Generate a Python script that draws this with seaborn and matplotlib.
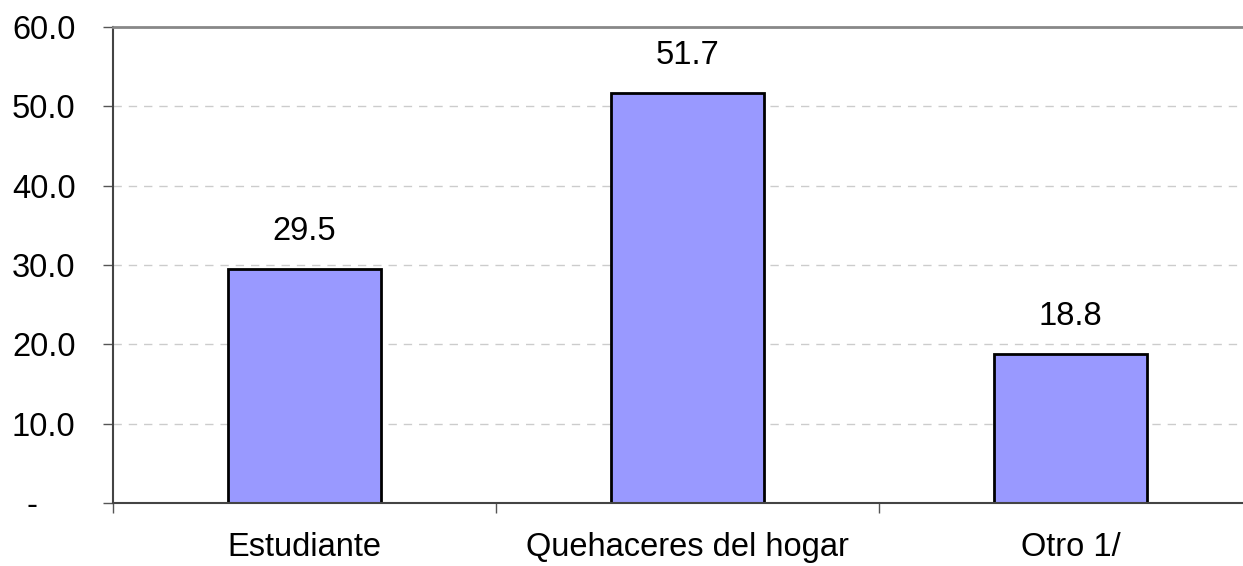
import matplotlib
matplotlib.use("Agg")
import matplotlib.pyplot as plt
import matplotlib.transforms as mtransforms
import seaborn as sns
import pandas as pd

categories = ["Estudiante", "Quehaceres del hogar", "Otro 1/"]
values = [29.5, 51.7, 18.8]
yticks = [0, 10, 20, 30, 40, 50, 60]
ytick_labels = ["-", "10.0", "20.0", "30.0", "40.0", "50.0", "60.0"]

sns.set_theme(style="white")
plt.rcParams['font.family'] = ['Liberation Sans', 'DejaVu Sans']

W, H = 1243, 566
FS = 23.5
fig = plt.figure(figsize=(W / 100, H / 100), dpi=100)
ax = fig.add_axes([113 / W, 63 / H, 1149 / W, 476 / H])

df = pd.DataFrame({"cat": categories, "val": values})
sns.barplot(data=df, x="cat", y="val", ax=ax, color="#9999FF", width=0.4,
            edgecolor="black", linewidth=2, saturation=1)

ax.set_xlim(-0.5, 2.5)
ax.set_ylim(0, 60)
ax.set_yticks(yticks)
ax.set_yticklabels(ytick_labels, fontsize=FS, color="black")
ax.yaxis.grid(True, linestyle=(0, (6, 5)), color="#cccccc", linewidth=1)
ax.set_axisbelow(True)

ax.set_xticks([0, 1, 2])
ax.set_xticklabels(categories, fontsize=FS, color="black")
ax.tick_params(axis="x", length=0, pad=21)
ax.set_xticks([-0.5, 0.5, 1.5], minor=True)
ax.tick_params(axis="x", which="minor", direction="out", length=7, width=1, color="#555555", bottom=True)
ax.tick_params(axis="y", direction="out", length=7, width=1, color="#555555", left=True, pad=20)

# the zero label "-" sits further left in the reference
lbl0 = ax.get_yticklabels()[0]
lbl0.set_transform(lbl0.get_transform() + mtransforms.ScaledTranslation(-38 / 100, 0, fig.dpi_scale_trans))

ax.set_xlabel("")
ax.set_ylabel("")

for s in ["left", "bottom"]:
    ax.spines[s].set_color("#444444")
    ax.spines[s].set_linewidth(1.5)
ax.spines["top"].set_color("#888888")
ax.spines["top"].set_linewidth(2)
ax.spines["right"].set_visible(False)

for i, v in enumerate(values):
    ax.annotate(f"{v:.1f}", xy=(i, v), xytext=(0, 16), textcoords="offset points",
                ha="center", va="bottom", fontsize=FS, color="black")

fig.savefig("out.png", dpi=100)
